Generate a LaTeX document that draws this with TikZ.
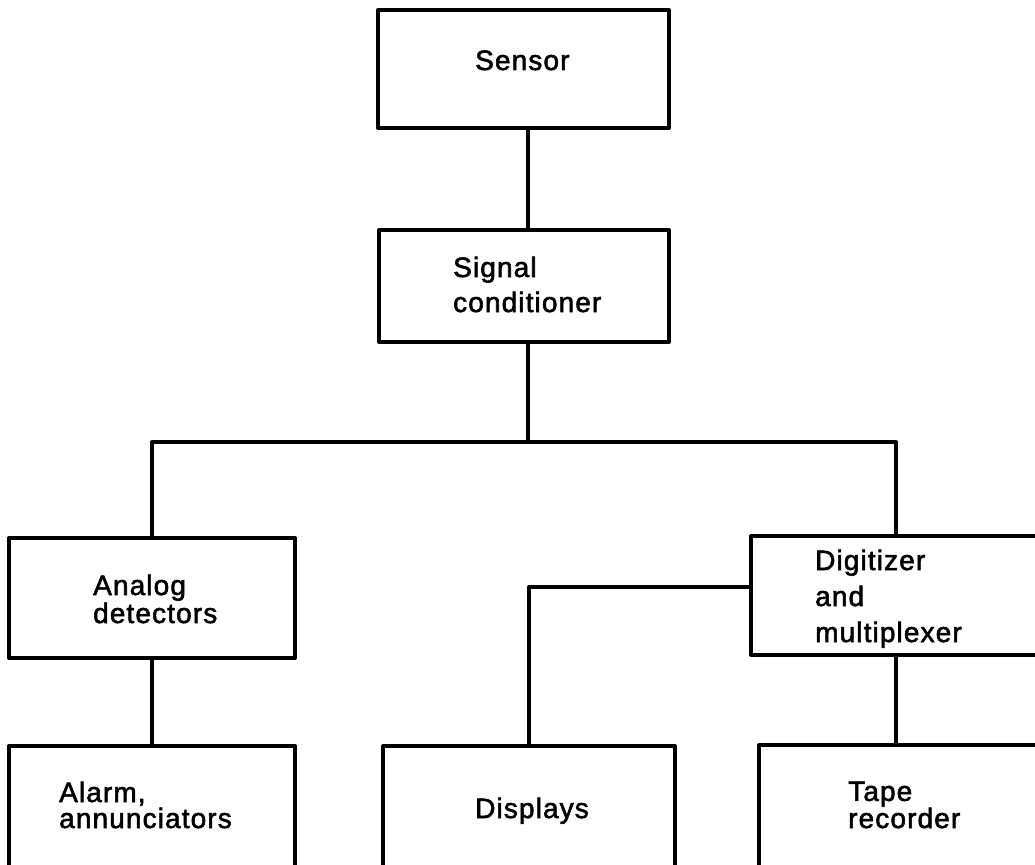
\documentclass[tikz,border=0pt]{standalone}
\usepackage{fontspec}
\setmainfont[FakeBold=2,LetterSpace=4]{Liberation Sans}
\begin{document}
\begin{tikzpicture}[x=1pt, y=-1pt,
  box/.style={draw, line width=4pt, line join=round, inner sep=0pt, fill=white},
  label/.style={anchor=base west, inner sep=0pt, align=left},
  wire/.style={line width=4pt, line join=round}]
  \useasboundingbox (0,0) rectangle (1035,864);
  \fill[white] (0,0) rectangle (1035,864);
  \clip (0,0) rectangle (1035,864);

  % boxes (bottom row and right column run past the page edge)
  \node[box, minimum width=291pt, minimum height=118pt] (sensor)    at (523.5,69)  {};
  \node[box, minimum width=290pt, minimum height=112pt] (signal)    at (524,286)   {};
  \node[box, minimum width=286pt, minimum height=120pt] (analog)    at (152,598)   {};
  \node[box, minimum width=299pt, minimum height=119pt] (digitizer) at (900.5,595.5) {};
  \node[box, minimum width=286pt, minimum height=144pt] (alarm)     at (152,818)   {};
  \node[box, minimum width=292pt, minimum height=144pt] (displays)  at (529,818)   {};
  \node[box, minimum width=301pt, minimum height=144pt] (tape)      at (909.5,817) {};

  % labels, each placed at the baseline of its last line
  \node[label, font={\fontsize{28}{35}\selectfont}] (sensor-t)    at (475,70)  {Sensor};
  \node[label, font={\fontsize{28}{35}\selectfont}] (signal-t)    at (453,312) {Signal\\conditioner};
  \node[label, font={\fontsize{28}{28}\selectfont}] (analog-t)    at (93,623)  {Analog\\detectors};
  \node[label, font={\fontsize{28}{36}\selectfont}] (digitizer-t) at (815,642) {Digitizer\\and\\multiplexer};
  \node[label, font={\fontsize{28}{26}\selectfont}] (alarm-t)     at (59,828)  {Alarm,\\annunciators};
  \node[label, font={\fontsize{28}{26}\selectfont}] (displays-t)  at (475,818) {Displays};
  \node[label, font={\fontsize{28}{26}\selectfont}] (tape-t)      at (848,828) {Tape\\recorder};

  % routing points
  \coordinate (trunk) at (528,442);
  \coordinate (busR)  at (896,442);
  \coordinate (tap)   at (529,587);

  % connectors
  \draw[wire] (trunk |- sensor.south) -- (trunk |- signal.north);
  \draw[wire] (trunk |- signal.south) -- (trunk);
  \draw[wire] (analog.north) |- (busR) -- (busR |- digitizer.north);
  \draw[wire] (analog.south) -- (alarm.north);
  \draw[wire] (digitizer.west |- tap) -| (displays.north);
  \draw[wire] (busR |- digitizer.south) -- (busR |- tape.north);
\end{tikzpicture}
\end{document}
